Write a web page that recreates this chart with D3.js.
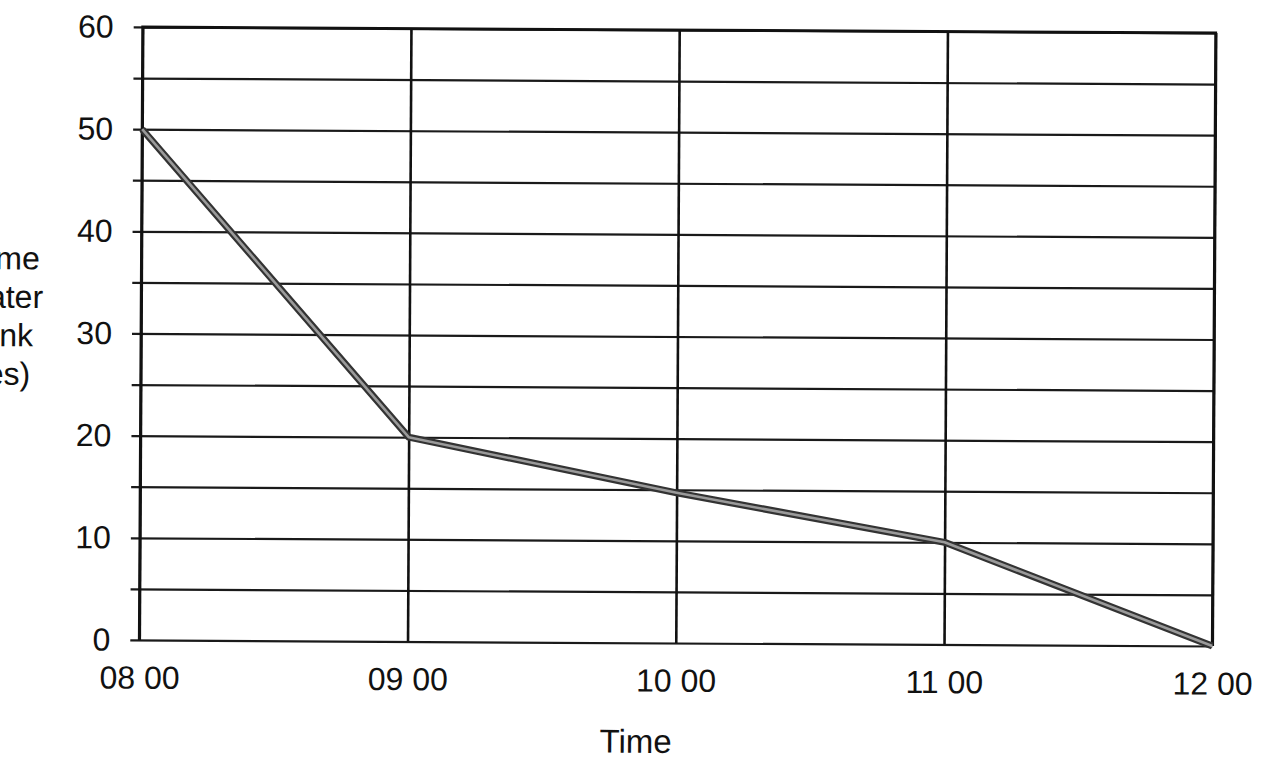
<!DOCTYPE html>
<html>
<head>
<meta charset="utf-8">
<script src="https://cdn.jsdelivr.net/npm/d3@7"></script>
<style>
  html, body { margin: 0; padding: 0; background: #fff; }
  svg { display: block; }
  text { font-family: "Liberation Sans", Arial, sans-serif; fill: #111; }
</style>
</head>
<body>
<svg id="chart" width="1268" height="768"></svg>
<script>
// -----------------------------------------------------------------------------
// data

var timeLabels = ['08 00', '09 00', '10 00', '11 00', '12 00'];
var volumes = [50, 20, 14.7, 10, 0];
var yTickValues = [0, 10, 20, 30, 40, 50, 60];
var yGridValues = [0, 5, 10, 15, 20, 25, 30, 35, 40, 45, 50, 55, 60];
var yTitleLines = ['Volume', 'of water', 'in tank', '(litres)'];
var xTitle = 'Time';

// -----------------------------------------------------------------------------

var svg = d3.select('#chart');

var plotLeft = 141;
var plotRight = 1214;
var plotTop = 30;
var plotBottom = 643;
var tickOut = 9;

var x = d3.scalePoint()
  .domain(timeLabels)
  .range([plotLeft, plotRight]);

var y = d3.scaleLinear()
  .domain([0, 60])
  .range([plotBottom, plotTop]);

// the scan is turned a little clockwise
var g = svg.append('g')
  .attr('transform', 'rotate(0.32, 678, 335)');

// - - - - - - - - - - - - - - - - - - - - - - - - - - - - - - - - - - - - - -
// horizontal grid, every 5, sticking out left of the axis

var gGrid = g.append('g')
  .attr('class', 'y-grid')
  .attr('transform', 'translate(' + (plotLeft - tickOut) + ',0)')
  .call(
    d3.axisLeft(y)
      .tickValues(yGridValues)
      .tickSizeInner(-(plotRight - plotLeft + tickOut))
      .tickSizeOuter(0)
      .tickFormat('')
  );
gGrid.select('.domain').remove();
gGrid.selectAll('line')
  .attr('stroke', '#1a1a1a')
  .attr('stroke-width', 2.2);

// vertical grid + x labels
var gX = g.append('g')
  .attr('class', 'x-axis')
  .attr('transform', 'translate(0,' + plotBottom + ')')
  .call(
    d3.axisBottom(x)
      .tickSizeInner(-(plotBottom - plotTop))
      .tickSizeOuter(0)
      .tickPadding(26)
  );
gX.select('.domain').remove();
gX.selectAll('line')
  .attr('stroke', '#111')
  .attr('stroke-width', 2.6);
gX.selectAll('text')
  .attr('font-size', 32)
  .attr('fill', '#111')
  .style('font-family', '"Liberation Sans", Arial, sans-serif');

// y labels
var gY = g.append('g')
  .attr('class', 'y-axis')
  .attr('transform', 'translate(' + plotLeft + ',0)')
  .call(
    d3.axisLeft(y)
      .tickValues(yTickValues)
      .tickSize(0)
      .tickPadding(29)
  );
gY.select('.domain').remove();
gY.selectAll('text')
  .attr('font-size', 32)
  .attr('fill', '#111')
  .style('font-family', '"Liberation Sans", Arial, sans-serif');

// left axis line, top border, right border
g.append('path')
  .attr('d', 'M' + plotLeft + ',' + plotBottom + 'V' + plotTop + 'H' + plotRight + 'V' + plotBottom)
  .attr('fill', 'none')
  .attr('stroke', '#111')
  .attr('stroke-width', 2.8);

// - - - - - - - - - - - - - - - - - - - - - - - - - - - - - - - - - - - - - -
// the series: dark outline with a grey core

var line = d3.line()
  .x(function (d, i) { return x(timeLabels[i]); })
  .y(function (d) { return y(d); });

g.append('path')
  .datum(volumes)
  .attr('d', line)
  .attr('fill', 'none')
  .attr('stroke', '#333')
  .attr('stroke-width', 7)
  .attr('stroke-linejoin', 'round');

g.append('path')
  .datum(volumes)
  .attr('d', line)
  .attr('fill', 'none')
  .attr('stroke', '#9a9a9a')
  .attr('stroke-width', 2.6)
  .attr('stroke-linejoin', 'round');

// - - - - - - - - - - - - - - - - - - - - - - - - - - - - - - - - - - - - - -
// titles

g.append('text')
  .attr('x', 638)
  .attr('y', 753)
  .attr('text-anchor', 'middle')
  .attr('font-size', 33)
  .text(xTitle);

g.append('g')
  .attr('class', 'y-title')
  .selectAll('text')
  .data(yTitleLines)
  .join('text')
  .attr('x', -14)
  .attr('y', function (d, i) { return 273 + i * 38.5; })
  .attr('text-anchor', 'middle')
  .attr('font-size', 32)
  .text(function (d) { return d; });

// -----------------------------------------------------------------------------
</script>
</body>
</html>
